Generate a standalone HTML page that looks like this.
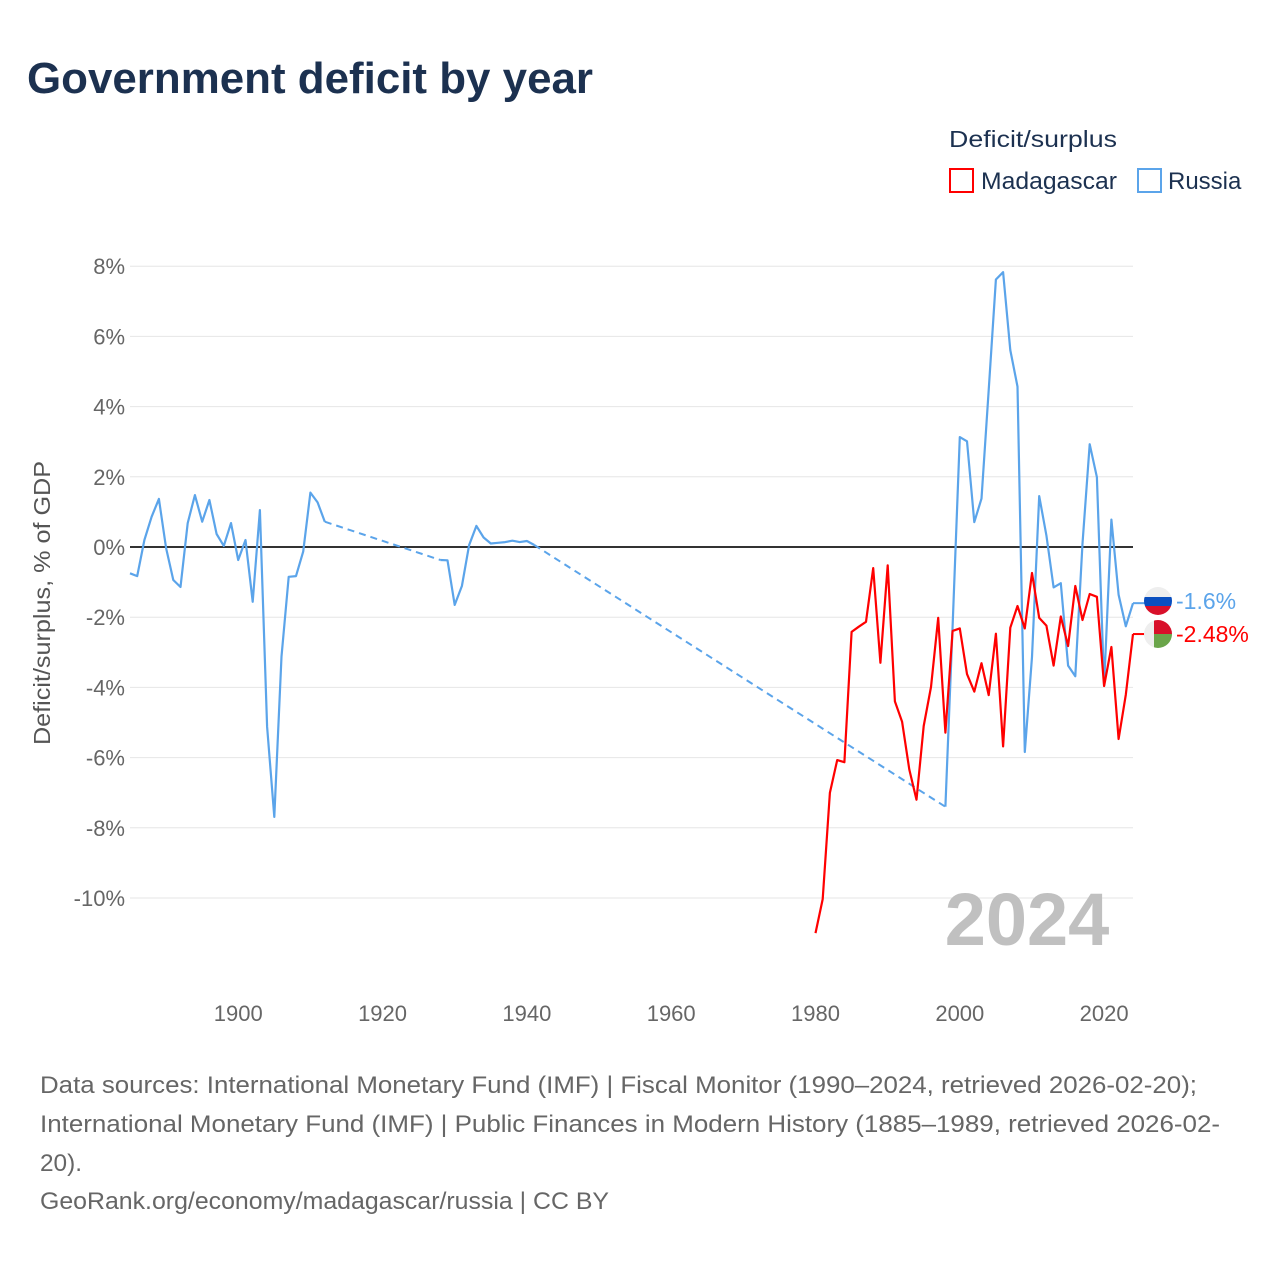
<!DOCTYPE html>
<html><head><meta charset="utf-8"><style>
body{margin:0;background:#fff;width:1280px;height:1280px;overflow:hidden;font-family:"Liberation Sans",sans-serif}
</style></head><body>
<svg width="1280" height="1280" xmlns="http://www.w3.org/2000/svg">
<text x="27" y="93" font-size="44" font-weight="bold" fill="#1c3150" textLength="566" lengthAdjust="spacingAndGlyphs">Government deficit by year</text>
<g>
<text x="949" y="147" font-size="23" fill="#1c3150" textLength="168" lengthAdjust="spacingAndGlyphs">Deficit/surplus</text>
<g><rect x="950" y="169" width="23" height="23" fill="none" stroke="#f00" stroke-width="2"/><text x="981" y="189" font-size="24" fill="#1c3150" textLength="136" lengthAdjust="spacingAndGlyphs">Madagascar</text></g>
<g><rect x="1138" y="169" width="23" height="23" fill="none" stroke="#5ba4ea" stroke-width="2"/><text x="1168" y="189" font-size="24" fill="#1c3150">Russia</text></g>
</g>
<g id="grid"></g>
<text x="1027" y="945" font-size="74" font-weight="bold" fill="#c0c0c0" text-anchor="middle">2024</text>
<text transform="translate(50,603) rotate(-90)" font-size="23" fill="#555" text-anchor="middle" textLength="284" lengthAdjust="spacingAndGlyphs">Deficit/surplus, % of GDP</text>
<g id="series"></g>
<g id="labels"></g>
<g font-size="24" fill="#666">
<text x="40" y="1093" textLength="1157" lengthAdjust="spacingAndGlyphs">Data sources: International Monetary Fund (IMF) | Fiscal Monitor (1990–2024, retrieved 2026-02-20);</text>
<text x="40" y="1132" textLength="1180" lengthAdjust="spacingAndGlyphs">International Monetary Fund (IMF) | Public Finances in Modern History (1885–1989, retrieved 2026-02-</text>
<text x="40" y="1171" textLength="42" lengthAdjust="spacingAndGlyphs">20).</text>
<text x="40" y="1209" textLength="569" lengthAdjust="spacingAndGlyphs">GeoRank.org/economy/madagascar/russia | CC BY</text>
</g>
</svg>
<script>
const yTicks=[-10,-8,-6,-4,-2,0,2,4,6,8];
const xTicks=[1900,1920,1940,1960,1980,2000,2020];
const russiaYears=[1885,1886,1887,1888,1889,1890,1891,1892,1893,1894,1895,1896,1897,1898,1899,1900,1901,1902,1903,1904,1905,1906,1907,1908,1909,1910,1911,1912,
1928,1929,1930,1931,1932,1933,1934,1935,1936,1937,1938,1939,1940,1941,
1998,1999,2000,2001,2002,2003,2004,2005,2006,2007,2008,2009,2010,2011,2012,2013,2014,2015,2016,2017,2018,2019,2020,2021,2022,2023,2024];
const russiaValues=[-0.75,-0.83,0.2,0.86,1.37,-0.03,-0.94,-1.14,0.68,1.48,0.72,1.34,0.37,0.03,0.68,-0.37,0.2,-1.56,1.05,-5.12,-7.69,-3.12,-0.85,-0.83,-0.13,1.55,1.27,0.72,
-0.37,-0.38,-1.65,-1.11,0.05,0.6,0.27,0.1,0.12,0.14,0.18,0.14,0.17,0.06,
-7.4,-2.26,3.13,3.01,0.71,1.38,4.47,7.62,7.83,5.61,4.57,-5.84,-3.13,1.45,0.33,-1.15,-1.03,-3.38,-3.68,0.1,2.93,1.99,-3.95,0.78,-1.36,-2.26,-1.6];
const madYears=[1980,1981,1982,1983,1984,1985,1986,1987,1988,1989,1990,1991,1992,1993,1994,1995,1996,1997,1998,1999,2000,2001,2002,2003,2004,2005,2006,2007,2008,2009,2010,2011,2012,2013,2014,2015,2016,2017,2018,2019,2020,2021,2022,2023,2024];
const madValues=[-11.0,-10.03,-7.0,-6.07,-6.13,-2.42,-2.27,-2.13,-0.6,-3.3,-0.52,-4.4,-4.98,-6.34,-7.2,-5.1,-3.99,-2.02,-5.29,-2.39,-2.32,-3.62,-4.12,-3.31,-4.22,-2.47,-5.68,-2.3,-1.68,-2.32,-0.74,-2.02,-2.24,-3.38,-1.98,-2.82,-1.11,-2.08,-1.34,-1.42,-3.96,-2.85,-5.47,-4.21,-2.48];
const NS="http://www.w3.org/2000/svg";
const X=y=>130+(y-1885)*(1003/139);
const Y=v=>547-v*35.1;
function mk(t,a,p){const e=document.createElementNS(NS,t);for(const k in a)e.setAttribute(k,a[k]);p.appendChild(e);return e;}
const grid=document.getElementById('grid');
yTicks.forEach(v=>{
 const l=mk('line',{x1:130,x2:1133,y1:Y(v),y2:Y(v),stroke:v===0?'#333':'#e6e6e6','stroke-width':v===0?2:1},grid);
 
 
 const t=mk('text',{x:125,y:Y(v)+8,'font-size':22,fill:'#666','text-anchor':'end'},grid);
 t.textContent=v+'%';
 
 
});
xTicks.forEach(yr=>{
 const t=mk('text',{x:X(yr),y:1021,'font-size':22,fill:'#666','text-anchor':'middle'},grid);
 t.textContent=yr;
 
 
});
const ser=document.getElementById('series');
function draw(years,vals,color,name){
 const g=mk('g',{},ser);
 
 
 let seg=[];const segs=[];
 for(let i=0;i<years.length;i++){
  if(i>0&&years[i]-years[i-1]>1){segs.push(seg);seg=[];
   const d=mk('line',{x1:X(years[i-1]),y1:Y(vals[i-1]),x2:X(years[i]),y2:Y(vals[i]),stroke:color,'stroke-width':2,'stroke-dasharray':'7,5'},g);
   
   }
  seg.push(X(years[i]).toFixed(1)+','+Y(vals[i]).toFixed(1));
 }
 segs.push(seg);
 segs.forEach(s=>{const p=mk('polyline',{points:s.join(' '),fill:'none',stroke:color,'stroke-width':2.2,'stroke-linejoin':'round'},g);
  
  });
}
draw(russiaYears,russiaValues,'#5ba4ea','russia');
draw(madYears,madValues,'#f00','madagascar');
const lab=document.getElementById('labels');
const rv=russiaValues[russiaValues.length-1], mv=madValues[madValues.length-1];
const lr=mk('line',{x1:1133,x2:1145,y1:Y(rv),y2:Y(rv),stroke:'#5ba4ea','stroke-width':2},lab);

const lm=mk('line',{x1:1133,x2:1145,y1:Y(mv),y2:Y(mv),stroke:'#f00','stroke-width':2},lab);

const cy1=601, cy2=634, cx=1158, r=14;
const fr=mk('g',{},lab);

fr.innerHTML=`<clipPath id="c1"><circle cx="${cx}" cy="${cy1}" r="${r}"/></clipPath><g clip-path="url(#c1)"><rect x="${cx-r}" y="${cy1-r}" width="28" height="10" fill="#eee"/><rect x="${cx-r}" y="${cy1-4}" width="28" height="9" fill="#0a4fbf"/><rect x="${cx-r}" y="${cy1+5}" width="28" height="10" fill="#d8102a"/></g>`;
const fm=mk('g',{},lab);

fm.innerHTML=`<clipPath id="c2"><circle cx="${cx}" cy="${cy2}" r="${r}"/></clipPath><g clip-path="url(#c2)"><rect x="${cx-r}" y="${cy2-r}" width="10" height="28" fill="#eee"/><rect x="${cx-4}" y="${cy2-r}" width="18" height="14" fill="#d8102a"/><rect x="${cx-4}" y="${cy2}" width="18" height="14" fill="#6aa54a"/></g>`;
const tr=mk('text',{x:1176,y:cy1+8,'font-size':23,fill:'#5ba4ea'},lab);
tr.textContent=rv+'%';
const tm=mk('text',{x:1176,y:cy2+8,'font-size':23,fill:'#f00'},lab);
tm.textContent=mv+'%';
</script>
</body></html>
